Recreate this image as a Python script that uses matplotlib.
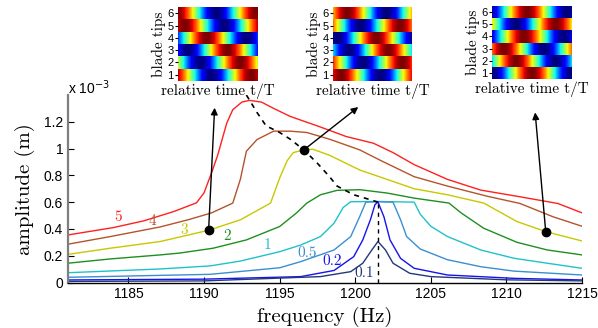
import numpy as np
import matplotlib
matplotlib.use("Agg")
import matplotlib.pyplot as plt

# ---------------- data ----------------
f5 = [1181, 1184, 1186, 1188, 1189.5, 1190.0, 1190.5, 1190.9, 1191.5, 1191.9, 1192.5, 1193.0, 1193.8, 1194.6, 1195.7, 1197.6, 1199.4, 1201.2, 1202.5, 1203.9, 1206.1, 1208.3, 1210.9, 1213.4, 1215]
a5 = [0.355, 0.41, 0.46, 0.53, 0.595, 0.67, 0.82, 0.95, 1.19, 1.29, 1.347, 1.36, 1.347, 1.30, 1.24, 1.165, 1.09, 1.04, 0.97, 0.88, 0.77, 0.69, 0.64, 0.59, 0.52]

f4 = [1181, 1183.8, 1187.1, 1189, 1190.5, 1191.9, 1192.4, 1192.8, 1193.5, 1194.6, 1195.7, 1196.8, 1198.3, 1200.3, 1201.7, 1203.9, 1206.1, 1208.7, 1210.9, 1213.1, 1215]
a4 = [0.286, 0.343, 0.415, 0.47, 0.52, 0.593, 0.77, 0.98, 1.067, 1.13, 1.13, 1.12, 1.07, 0.99, 0.91, 0.79, 0.72, 0.645, 0.59, 0.49, 0.42]

f3 = [1181, 1183.8, 1187.1, 1190.3, 1192.4, 1194.4, 1195.0, 1195.5, 1195.9, 1196.6, 1197.2, 1198.3, 1200.3, 1202.1, 1203.9, 1206.1, 1208.5, 1210.7, 1212.6, 1215]
a3 = [0.21, 0.256, 0.306, 0.39, 0.468, 0.593, 0.78, 0.91, 0.97, 0.99, 0.995, 0.95, 0.84, 0.77, 0.70, 0.655, 0.593, 0.455, 0.38, 0.31]

f2 = [1181, 1183.8, 1187.1, 1188.4, 1190.6, 1192.8, 1195.0, 1196.1, 1196.8, 1197.7, 1198.8, 1200.3, 1202.1, 1203.9, 1206.2, 1207.0, 1208.5, 1210.7, 1212.7, 1215]
a2 = [0.144, 0.176, 0.206, 0.22, 0.256, 0.318, 0.418, 0.518, 0.593, 0.655, 0.688, 0.693, 0.668, 0.63, 0.593, 0.52, 0.405, 0.30, 0.243, 0.206]

f1 = [1181, 1183.8, 1187.1, 1190.4, 1192.4, 1195.0, 1196.4, 1197.7, 1198.6, 1199.2, 1199.7, 1201.5, 1203.9, 1204.3, 1205.0, 1206.1, 1208.3, 1210.5, 1212.7, 1215]
a1 = [0.073, 0.086, 0.101, 0.124, 0.16, 0.23, 0.28, 0.343, 0.443, 0.56, 0.603, 0.605, 0.6, 0.51, 0.42, 0.343, 0.243, 0.181, 0.144, 0.106]

f05 = [1181, 1190.4, 1195.0, 1196.4, 1198.6, 1199.7, 1200.3, 1200.7, 1201.5, 1202.5, 1203.0, 1203.4, 1204.3, 1206.1, 1208.3, 1210.5, 1215]
a05 = [0.039, 0.061, 0.11, 0.156, 0.243, 0.343, 0.493, 0.6, 0.603, 0.6, 0.468, 0.343, 0.25, 0.17, 0.118, 0.085, 0.056]

f02 = [1181, 1190, 1196.4, 1198.6, 1199.9, 1200.5, 1201.0, 1201.3, 1201.5, 1201.9, 1202.3, 1203.0, 1203.9, 1206.1, 1210.5, 1215]
a02 = [0.019, 0.025, 0.044, 0.09, 0.193, 0.318, 0.468, 0.58, 0.602, 0.49, 0.318, 0.18, 0.106, 0.056, 0.031, 0.019]

f01 = [1181, 1190, 1197.7, 1199.7, 1200.5, 1201.1, 1201.5, 1202.0, 1202.5, 1203.6, 1205.0, 1210.0, 1215]
a01 = [0.008, 0.012, 0.044, 0.081, 0.144, 0.243, 0.306, 0.243, 0.144, 0.069, 0.044, 0.02, 0.012]

# backbone (dashed)
fb = [1192.8, 1193.5, 1194.1, 1195.0, 1195.7, 1196.6, 1197.5, 1198.3, 1198.8, 1199.9, 1201.0, 1201.5]
ab = [1.40, 1.27, 1.17, 1.12, 1.07, 0.99, 0.89, 0.79, 0.72, 0.655, 0.618, 0.6]
f_res = 1201.5
a_res = 0.6

# marked points and arrow tips
pt_f = [1190.3, 1196.6, 1212.6]
pt_a = [0.39, 0.99, 0.38]
tip_f = [1190.7, 1200.2, 1211.9]
tip_a = [1.305, 1.31, 1.27]

# curve labels
labels = ["5", "4", "3", "2", "1", "0.5", "0.2", "0.1"]
lab_f = [1184.3, 1186.6, 1188.7, 1191.5, 1194.2, 1196.8, 1198.5, 1200.6]
lab_a = [0.49, 0.455, 0.39, 0.343, 0.28, 0.22, 0.156, 0.069]

# inset phases (time of maximum, in t/T) for blade tips 1..6
inset_phase = [
    [0.92, 0.78, 0.62, 0.36, 0.08, 0.98],
    [0.10, 0.88, 0.70, 0.55, 0.85, 0.18],
    [0.50, 0.30, 0.15, 0.40, 0.80, 0.44],
]
blade_ticks = [1, 2, 3, 4, 5, 6]

xticks = [1185, 1190, 1195, 1200, 1205, 1210, 1215]
yticks = [0, 0.2, 0.4, 0.6, 0.8, 1.0, 1.2]
ytick_labels = ["0", "0.2", "0.4", "0.6", "0.8", "1", "1.2"]

colors = ["#ff2020", "#b4532c", "#c8c800", "#1f8f1f", "#1fc2c8", "#3a8fd0", "#1414ee", "#22387a"]
curves = [(f5, a5), (f4, a4), (f3, a3), (f2, a2), (f1, a1), (f05, a05), (f02, a02), (f01, a01)]

# ---------------- figure ----------------
W, H = 598, 328
fig = plt.figure(figsize=(W / 100, H / 100), dpi=100)
ax = fig.add_axes([68 / W, (H - 282.5) / H, (582 - 68) / W, (282.5 - 95) / H])

for (f, a), c in zip(curves, colors):
    ax.plot(f, a, color=c, lw=1.0, solid_joinstyle="round")

ax.plot(fb, ab, color="black", lw=1.2, ls=(0, (3, 3)))
ax.plot([f_res, f_res], [0, a_res], color="black", lw=1.0, ls=(0, (3, 3)))

for x0, y0, x1, y1 in zip(pt_f, pt_a, tip_f, tip_a):
    ax.annotate("", xy=(x1, y1), xytext=(x0, y0),
                arrowprops=dict(arrowstyle="-|>", color="black", lw=1.0, mutation_scale=10,
                                shrinkA=0, shrinkB=0))
ax.plot(pt_f, pt_a, "o", color="black", ms=6, zorder=5)

for t, x, y, c in zip(labels, lab_f, lab_a, colors):
    ax.text(x, y, t, color=c, fontsize=11, family="cmr10", ha="center", va="center")

ax.set_xlim(1181, 1215)
ax.set_ylim(0, 1.4)
ax.set_xticks(xticks)
ax.set_yticks(yticks)
ax.set_yticklabels(ytick_labels)
ax.tick_params(direction="in", length=4, labelsize=10, width=0.8)
for lab in ax.get_xticklabels() + ax.get_yticklabels():
    lab.set_family("Liberation Sans")
ax.spines["top"].set_visible(False)
ax.spines["right"].set_visible(False)
ax.spines["left"].set_color("#7f7f7f")
ax.spines["left"].set_linewidth(1.6)
ax.spines["bottom"].set_linewidth(1.0)
ax.set_xlabel("frequency (Hz)", family="cmr10", fontsize=15, labelpad=4)
ax.set_ylabel("amplitude (m)", family="cmr10", fontsize=15, labelpad=6)
fig.text(68 / W, 1 - 88 / H, r"x 10$^{-3}$", fontsize=10, family="Liberation Sans",
         ha="left", va="center")

# ---------------- insets ----------------
inset_boxes = [(178, 7, 80, 74), (333, 7, 79, 74), (492, 6, 80, 73)]
t = np.linspace(0, 1, 240)
for (x0, y0, w, h), ph in zip(inset_boxes, inset_phase):
    iax = fig.add_axes([x0 / W, (H - y0 - h) / H, w / W, h / H])
    img = np.array([np.cos(2 * np.pi * (t - p)) for p in ph])
    iax.imshow(img, cmap="jet", aspect="auto", origin="lower",
               extent=[0, 1, 0.5, 6.5], interpolation="nearest")
    iax.set_xticks([])
    iax.set_yticks(blade_ticks)
    iax.tick_params(axis="y", length=2, labelsize=8, pad=1)
    for lab in iax.get_yticklabels():
        lab.set_family("Liberation Sans")
    iax.set_ylabel("blade tips", family="cmr10", fontsize=11, labelpad=1)
    iax.set_xlabel("relative time t/T", family="cmr10", fontsize=11, labelpad=2)
    for s in iax.spines.values():
        s.set_visible(False)

fig.savefig("out.png", dpi=100)
